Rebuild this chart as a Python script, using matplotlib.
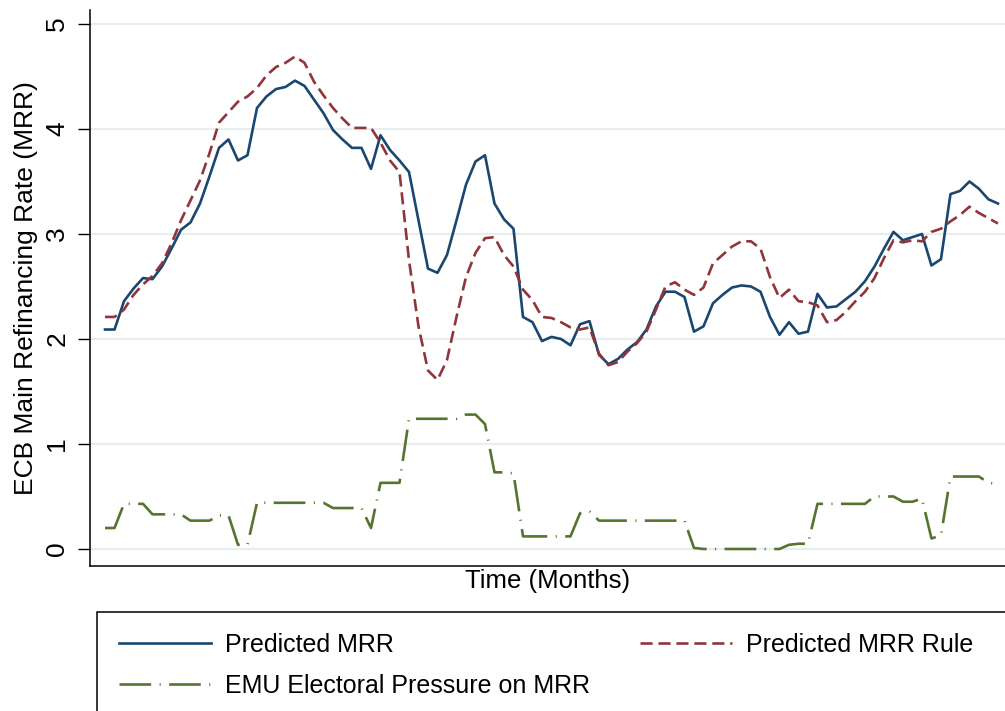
import numpy as np
import matplotlib.pyplot as plt
from matplotlib.patches import Rectangle

plt.rcParams['font.family'] = ['Liberation Sans', 'DejaVu Sans']

predicted_mrr = [
    2.09, 2.09, 2.36, 2.48, 2.58, 2.57, 2.69, 2.86, 3.04, 3.11,
    3.29, 3.55, 3.82, 3.90, 3.70, 3.75, 4.20, 4.31, 4.38, 4.40,
    4.46, 4.41, 4.28, 4.15, 3.99, 3.90, 3.82, 3.82, 3.62, 3.94,
    3.80, 3.70, 3.59, 3.13, 2.67, 2.63, 2.80, 3.13, 3.47, 3.69,
    3.75, 3.29, 3.14, 3.05, 2.21, 2.16, 1.98, 2.02, 2.00, 1.94,
    2.14, 2.17, 1.85, 1.76, 1.81, 1.90, 1.97, 2.09, 2.31, 2.45,
    2.45, 2.40, 2.07, 2.12, 2.34, 2.42, 2.49, 2.51, 2.50, 2.45,
    2.21, 2.04, 2.16, 2.05, 2.07, 2.43, 2.30, 2.31, 2.38, 2.45,
    2.55, 2.69, 2.86, 3.02, 2.94, 2.97, 3.00, 2.70, 2.76, 3.38,
    3.41, 3.50, 3.43, 3.33, 3.29,
]
predicted_rule = [
    2.21, 2.21, 2.28, 2.42, 2.52, 2.60, 2.72, 2.91, 3.13, 3.32,
    3.51, 3.77, 4.06, 4.16, 4.26, 4.31, 4.39, 4.51, 4.59, 4.63,
    4.69, 4.63, 4.45, 4.32, 4.20, 4.10, 4.01, 4.01, 4.01, 3.87,
    3.70, 3.59, 2.75, 2.12, 1.70, 1.61, 1.80, 2.21, 2.59, 2.82,
    2.96, 2.97, 2.80, 2.69, 2.47, 2.37, 2.21, 2.20, 2.16, 2.11,
    2.09, 2.11, 1.86, 1.75, 1.78, 1.88, 1.96, 2.07, 2.28, 2.50,
    2.54, 2.47, 2.42, 2.49, 2.72, 2.80, 2.88, 2.93, 2.93, 2.86,
    2.59, 2.39, 2.47, 2.36, 2.35, 2.32, 2.16, 2.18, 2.26, 2.36,
    2.45, 2.58, 2.77, 2.94, 2.92, 2.94, 2.93, 3.02, 3.05, 3.12,
    3.18, 3.26, 3.20, 3.15, 3.10,
]
electoral_pressure = [
    0.20, 0.20, 0.43, 0.43, 0.43, 0.33, 0.33, 0.33, 0.33, 0.27,
    0.27, 0.27, 0.32, 0.32, 0.04, 0.04, 0.44, 0.44, 0.44, 0.44,
    0.44, 0.44, 0.44, 0.44, 0.39, 0.39, 0.39, 0.39, 0.20, 0.63,
    0.63, 0.63, 1.24, 1.24, 1.24, 1.24, 1.24, 1.24, 1.28, 1.28,
    1.19, 0.73, 0.73, 0.72, 0.12, 0.12, 0.12, 0.12, 0.12, 0.12,
    0.34, 0.36, 0.27, 0.27, 0.27, 0.27, 0.27, 0.27, 0.27, 0.27,
    0.27, 0.27, 0.01, 0.00, 0.00, 0.00, 0.00, 0.00, 0.00, 0.00,
    0.00, 0.00, 0.04, 0.05, 0.05, 0.43, 0.43, 0.43, 0.43, 0.43,
    0.43, 0.50, 0.50, 0.50, 0.45, 0.45, 0.48, 0.10, 0.13, 0.69,
    0.69, 0.69, 0.69, 0.63, 0.62,
]
months = np.arange(len(predicted_mrr))
y_ticks = [0, 1, 2, 3, 4, 5]

navy = '#1a476f'
maroon = '#90353b'
green = '#55752f'

fig = plt.figure(figsize=(10.05, 7.11), dpi=100)
ax = fig.add_axes([90 / 1005, 1 - 566 / 711, 1 - 90 / 1005, (566 - 10) / 711])

l1, = ax.plot(months, predicted_mrr, color=navy, lw=1.9, label='Predicted MRR')
l2, = ax.plot(months, predicted_rule, color=maroon, lw=1.9, label='Predicted MRR Rule',
              dashes=(4.6, 2.2))
l3, = ax.plot(months, electoral_pressure, color=green, lw=1.9,
              label='EMU Electoral Pressure on MRR', dashes=(12, 3.2, 0.4, 3.2))

ax.set_xlim(-1.58, 94.74)
ax.set_ylim(-0.162, 5.133)
ax.set_yticks(y_ticks)
ax.set_yticklabels([str(t) for t in y_ticks], rotation=90, va='center', fontsize=19)
ax.set_xticks([])
ax.grid(axis='y', color='#e6eef0', lw=1.6)
ax.set_axisbelow(True)
ax.tick_params(axis='y', length=9, width=1, pad=6)
for s in ['top', 'right']:
    ax.spines[s].set_visible(False)
for s in ['left', 'bottom']:
    ax.spines[s].set_linewidth(1.1)

ax.set_ylabel('ECB Main Refinancing Rate (MRR)', fontsize=19, labelpad=5)
ax.set_xlabel('Time (Months)', fontsize=18.5, labelpad=2)

# legend box (runs off the right and bottom edges, as in the original)
fig.patches.append(Rectangle((97 / 1005, -0.1), 1.0, (711 - 612) / 711 + 0.1,
                             transform=fig.transFigure, fill=False,
                             edgecolor='black', lw=1.1))
fig.legend(handles=[l1, l3, l2], ncol=2, frameon=False, fontsize=18,
           loc='upper left', bbox_to_anchor=(106 / 1005, 1 - 620 / 711),
           handlelength=3.7, handletextpad=0.55, columnspacing=2.0,
           labelspacing=0.7, borderpad=0)

fig.savefig('out.png', dpi=100)
